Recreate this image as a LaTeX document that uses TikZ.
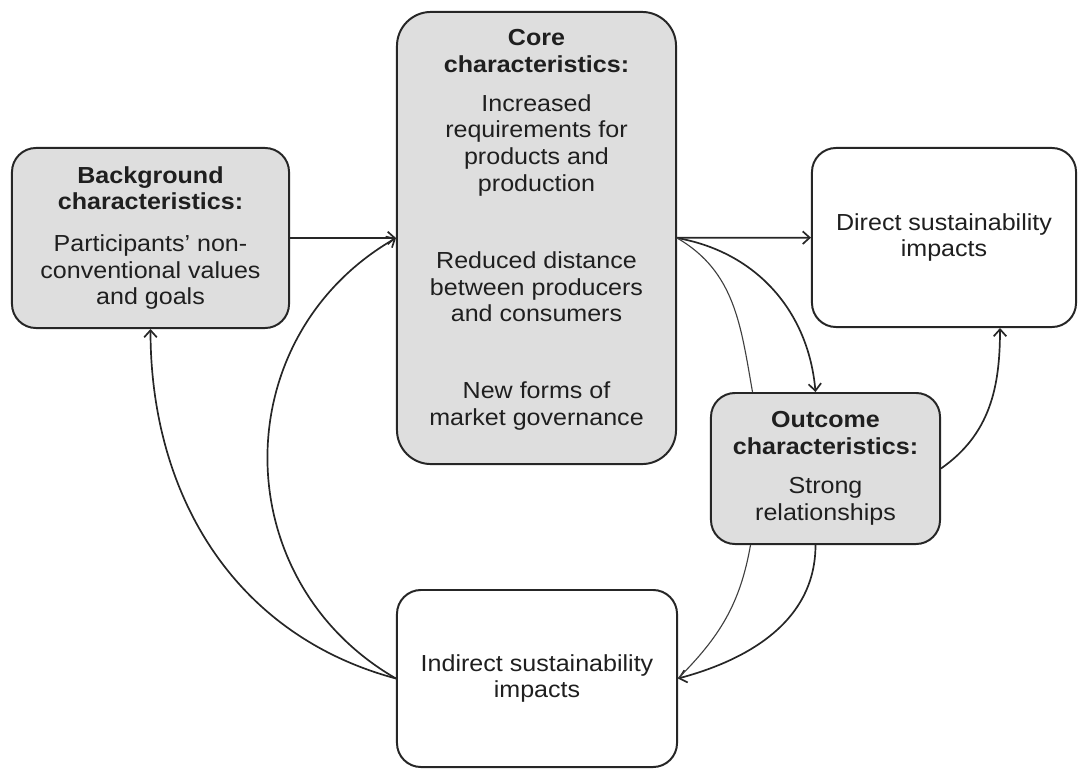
\documentclass[tikz,border=0pt]{standalone}
\usepackage{fontspec}
\setmainfont{Liberation Sans}[FakeStretch=1.08]
\usetikzlibrary{arrows.meta,calc}

\tikzset{
    box/.style={draw=black!85, line width=1.4pt, rounded corners=0.6cm, inner sep=0pt,
        align=center, text=black!88, font=\fontsize{16.5}{19}\selectfont},
    greybox/.style={box, fill=black!13},
    whitebox/.style={box, fill=white},
    link/.style={draw=black!85, line width=1.2pt},
    thinlink/.style={draw=black!75, line width=0.8pt},
    arr/.style={link, -{Straight Barb[length=5pt,width=9pt]}}
}

\begin{document}
\begin{tikzpicture}[x=0.025cm, y=-0.025cm]
    \useasboundingbox (0,0) rectangle (1083,769);

    % boxes
    \node [greybox, minimum width=6.925cm, minimum height=4.5cm] (bg) at (150.5,238)
        {\textbf{Background}\\\textbf{characteristics:}\\[10.5pt]Participants' non-\\conventional values\\and goals};
    \node [greybox, rounded corners=0.85cm, minimum width=6.975cm, minimum height=11.3cm] (core) at (536.5,238) {};
    \node [box, draw=none, fill=none, rounded corners=0pt] (coretext) at (536.5,230)
        {\textbf{Core}\\\textbf{characteristics:}\\[8.5pt]Increased\\requirements for\\products and\\production\\[35.8pt]
         Reduced distance\\between producers\\and consumers\\[35.8pt]New forms of\\market governance};
    \node [whitebox, minimum width=6.6cm, minimum height=4.475cm] (direct) at (944,237.5)
        {Direct sustainability\\impacts};
    \node [greybox, minimum width=5.725cm, minimum height=3.775cm] (outcome) at (825.5,468.5)
        {\textbf{Outcome}\\\textbf{characteristics:}\\[9pt]Strong\\relationships};
    \node [whitebox, minimum width=7cm, minimum height=4.425cm] (indirect) at (537,678.5)
        {Indirect sustainability\\impacts};

    % connectors
    \draw [arr] (bg) -- (core);
    \draw [arr] (core) -- (direct);
    \draw [arr] (core.east) to [out=-10,in=95] ($(outcome.north)+(-10,0)$);
    \draw [thinlink] (core.east) to [out=-30,in=100] ($(outcome.north)+(-73,0)$);
    \draw [arr] (outcome.east) to [out=35,in=-90] ($(direct.south)+(56,0)$);
    \draw [arr] ($(outcome.south)+(-10,0)$) to [out=-90,in=15] (indirect.east);
    \draw [thinlink] ($(outcome.south)+(-75,0)$) to [out=-100,in=45] (indirect.east);
    \draw [arr] (indirect.west) to [out=165,in=-90] (bg.south);
    \draw [arr] (indirect.west) to [out=150,in=210,looseness=1.15] (core.west);
\end{tikzpicture}
\end{document}
